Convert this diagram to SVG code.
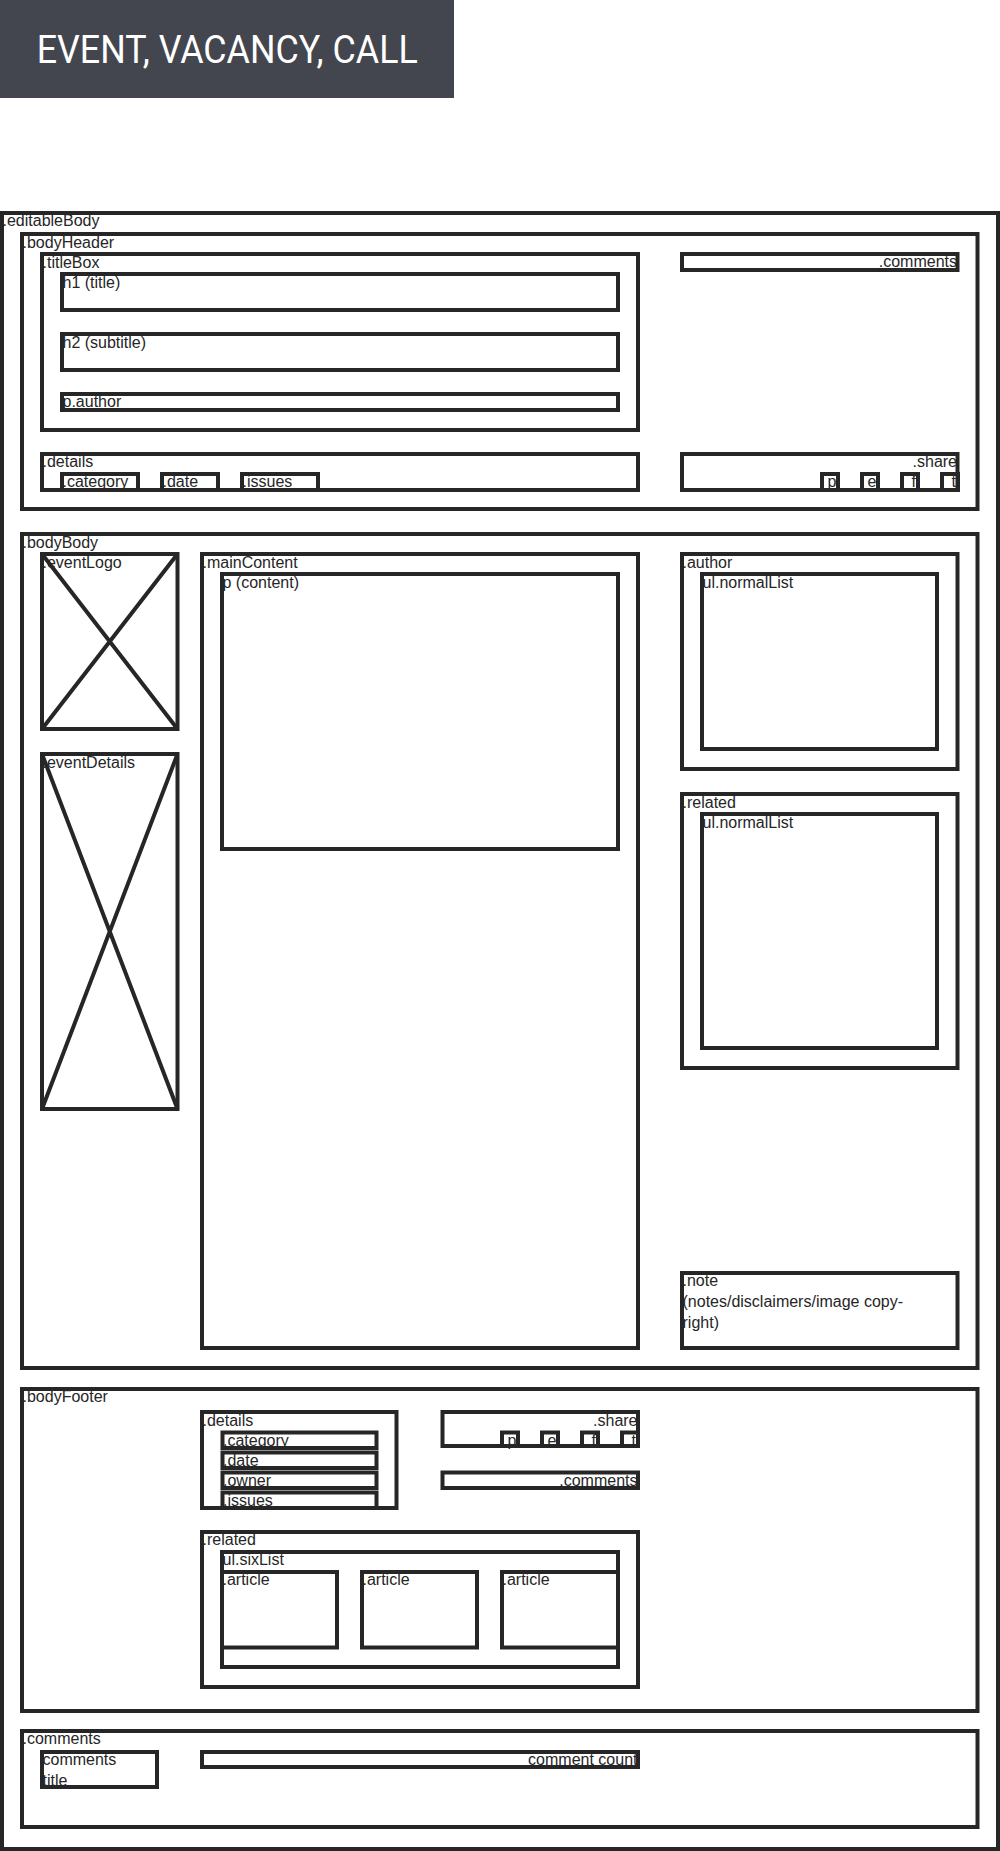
<svg xmlns="http://www.w3.org/2000/svg" width="1000" height="1851" viewBox="0 0 1000 1851">
<style>
.box{fill:none;stroke:#262626;stroke-width:4}
.ln{stroke:#262626;stroke-width:4;fill:none}
.t{font-family:"Liberation Sans",Arial,sans-serif;font-size:16px;fill:#262626}
.r{text-anchor:end}
.banner{font-family:Roboto,"Liberation Sans",sans-serif;font-weight:400;font-size:39px;fill:#ffffff}
</style>
<rect width="1000" height="1851" fill="#ffffff"/>
<g id="banner">
<rect x="0" y="0" width="454" height="98" fill="#43464e"/>
<text class="banner" x="36.7" y="62.7" textLength="381" lengthAdjust="spacingAndGlyphs">EVENT, VACANCY, CALL</text>
</g>
<g id="editableBody">
<text class="t" x="2.5" y="226">.editableBody</text>
<rect class="box" x="2" y="213" width="996" height="1636"/>
</g>
<g id="bodyHeader">
<text class="t" x="22.5" y="247.5">.bodyHeader</text>
<rect class="box" x="22" y="234" width="955.5" height="275"/>
<g id="titleBox">
<text class="t" x="42.5" y="267.5">.titleBox</text>
<rect class="box" x="42" y="254" width="596" height="176"/>
<g id="h1"><text class="t" x="62.5" y="287.5">h1 (title)</text><rect class="box" x="62" y="274" width="556" height="36"/></g>
<g id="h2"><text class="t" x="62.5" y="347.5">h2 (subtitle)</text><rect class="box" x="62" y="334" width="556" height="36"/></g>
<g id="pauthor"><text class="t" x="62.5" y="407">p.author</text><rect class="box" x="62" y="394" width="556" height="16"/></g>
</g>
<g id="headerDetails">
<text class="t" x="42.5" y="467">.details</text>
<rect class="box" x="42" y="454" width="596" height="36"/>
<g id="hCategory"><text class="t" x="62.5" y="487">.category</text><rect class="box" x="62" y="474" width="76" height="16"/></g>
<g id="hDate"><text class="t" x="162.5" y="487">.date</text><rect class="box" x="162" y="474" width="56" height="16"/></g>
<g id="hIssues"><text class="t" x="242.5" y="487">.issues</text><rect class="box" x="242" y="474" width="76" height="16"/></g>
</g>
<g id="headerComments">
<text class="t r" x="957" y="266.5">.comments</text>
<rect class="box" x="682" y="254" width="275.5" height="16"/>
</g>
<g id="headerShare">
<text class="t r" x="957" y="466.5">.share</text>
<rect class="box" x="682" y="454" width="275.5" height="36"/>
<g id="hShareP"><text class="t r" x="836.5" y="486.5">p</text><rect class="box" x="822" y="474" width="16" height="16"/></g>
<g id="hShareE"><text class="t r" x="876.5" y="486.5">e</text><rect class="box" x="862" y="474" width="16" height="16"/></g>
<g id="hShareF"><text class="t r" x="916" y="486.5">f</text><rect class="box" x="902" y="474" width="16" height="16"/></g>
<g id="hShareT"><text class="t r" x="956" y="486.5">t</text><rect class="box" x="942" y="474" width="16" height="16"/></g>
</g>
</g>
<g id="bodyBody">
<text class="t" x="22.5" y="547.5">.bodyBody</text>
<rect class="box" x="22" y="534" width="955.5" height="834"/>
<g id="eventLogo">
<text class="t" x="42.5" y="567.5">.eventLogo</text>
<rect class="box" x="42" y="554" width="135.5" height="175"/>
<path class="ln" d="M42,554 L177.5,729 M177.5,554 L42,729"/>
</g>
<g id="eventDetails">
<text class="t" x="42.5" y="767.5">.eventDetails</text>
<rect class="box" x="42" y="754" width="135.5" height="355"/>
<path class="ln" d="M42,754 L177.5,1109 M177.5,754 L42,1109"/>
</g>
<g id="mainContent">
<text class="t" x="202.5" y="567.5">.mainContent</text>
<rect class="box" x="202" y="554" width="436" height="794"/>
<g id="pContent"><text class="t" x="222.5" y="587.5">p (content)</text><rect class="box" x="222" y="574" width="396" height="275"/></g>
</g>
<g id="author">
<text class="t" x="682.5" y="567.5">.author</text>
<rect class="box" x="682" y="554" width="275.5" height="215"/>
<g id="authorList"><text class="t" x="702.5" y="587.5">ul.normalList</text><rect class="box" x="702" y="574" width="235" height="175"/></g>
</g>
<g id="related">
<text class="t" x="682.5" y="807.5">.related</text>
<rect class="box" x="682" y="794" width="275.5" height="274"/>
<g id="relatedList"><text class="t" x="702.5" y="827.5">ul.normalList</text><rect class="box" x="702" y="814" width="235" height="234"/></g>
</g>
<g id="note">
<text class="t" x="682.5" y="1286">.note</text>
<text class="t" x="682.5" y="1307">(notes/disclaimers/image copy-</text>
<text class="t" x="682.5" y="1328">right)</text>
<rect class="box" x="682" y="1273" width="275.5" height="75"/>
</g>
</g>
<g id="bodyFooter">
<text class="t" x="22.5" y="1402">.bodyFooter</text>
<rect class="box" x="22" y="1389" width="955.5" height="322"/>
<g id="footerDetails">
<text class="t" x="202.5" y="1425.5">.details</text>
<rect class="box" x="202" y="1412" width="194.5" height="96"/>
<g id="fCategory"><text class="t" x="223" y="1445.5">.category</text><rect class="box" x="222.5" y="1432.5" width="154" height="15.5"/></g>
<g id="fDate"><text class="t" x="223" y="1465.5">.date</text><rect class="box" x="222.5" y="1452.5" width="154" height="15.5"/></g>
<g id="fOwner"><text class="t" x="223" y="1485.5">.owner</text><rect class="box" x="222.5" y="1472.5" width="154" height="15.5"/></g>
<g id="fIssues"><text class="t" x="223" y="1505.5">.issues</text><rect class="box" x="222.5" y="1492.5" width="154" height="15.5"/></g>
</g>
<g id="footerShare">
<text class="t r" x="637.5" y="1425.5">.share</text>
<rect class="box" x="442.5" y="1412" width="195.5" height="34"/>
<g id="fShareP"><text class="t r" x="516.5" y="1445.5">p</text><rect class="box" x="502" y="1432.5" width="16" height="13.5"/></g>
<g id="fShareE"><text class="t r" x="556.5" y="1445.5">e</text><rect class="box" x="542" y="1432.5" width="16" height="13.5"/></g>
<g id="fShareF"><text class="t r" x="596" y="1445.5">f</text><rect class="box" x="582" y="1432.5" width="16" height="13.5"/></g>
<g id="fShareT"><text class="t r" x="636" y="1445.5">t</text><rect class="box" x="622" y="1432.5" width="16" height="13.5"/></g>
</g>
<g id="footerComments">
<text class="t r" x="637.5" y="1485.5">.comments</text>
<rect class="box" x="442.5" y="1472.5" width="195.5" height="15.5"/>
</g>
<g id="footerRelated">
<text class="t" x="202.5" y="1545">.related</text>
<rect class="box" x="202" y="1532" width="436" height="155"/>
<g id="sixList">
<text class="t" x="222.5" y="1565">ul.sixList</text>
<rect class="box" x="222" y="1552" width="396" height="115"/>
<g id="article1"><text class="t" x="222.5" y="1585">.article</text><rect class="box" x="222" y="1572" width="115" height="75.5"/></g>
<g id="article2"><text class="t" x="362.5" y="1585">.article</text><rect class="box" x="362" y="1572" width="115" height="75.5"/></g>
<g id="article3"><text class="t" x="502.5" y="1585">.article</text><rect class="box" x="502" y="1572" width="116" height="75.5"/></g>
</g>
</g>
</g>
<g id="comments">
<text class="t" x="22.5" y="1744">.comments</text>
<rect class="box" x="22" y="1731" width="955.5" height="96"/>
<g id="commentsTitle">
<text class="t" x="42.5" y="1765">comments</text>
<text class="t" x="42.5" y="1786">title</text>
<rect class="box" x="42" y="1752" width="115" height="35"/>
</g>
<g id="commentCount">
<text class="t r" x="637.5" y="1765">comment count</text>
<rect class="box" x="202" y="1752" width="436" height="15"/>
</g>
</g>
<g id="connectors"></g>
</svg>
